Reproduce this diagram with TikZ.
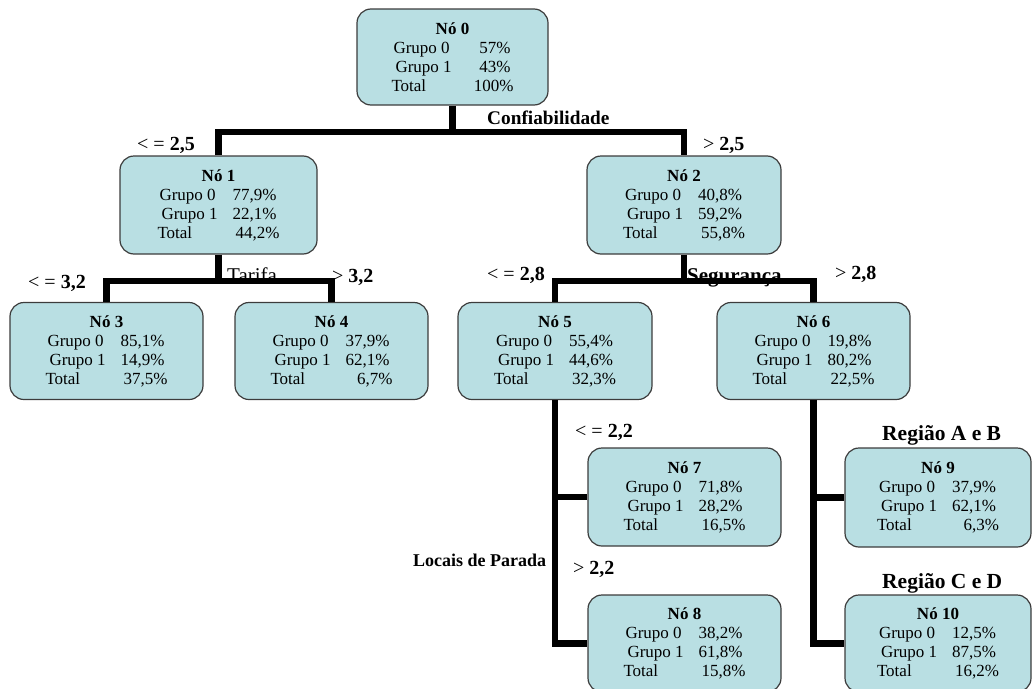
\documentclass[tikz,border=0pt]{standalone}
\usepackage{fontspec}
\setmainfont{Liberation Serif}
\newcommand{\nd}[4]{\textbf{Nó #1}\\\makebox[122pt]{\hspace{2pt}Grupo 0\hfill#2\hspace{3pt}}\\\makebox[122pt]{\hspace{4pt}Grupo 1\hfill#3\hspace{3pt}}\\\makebox[122pt]{Total\hfill#4}}
\definecolor{boxfill}{RGB}{185,223,227}
\definecolor{boxline}{RGB}{60,60,60}
\tikzset{
  tbox/.style={draw=boxline, line width=1.2pt, fill=boxfill, rounded corners=14pt,
    inner sep=0pt, align=center, font=\fontsize{17}{19}\selectfont,
    minimum width=193pt, minimum height=97pt},
  conn/.style={line width=6.5pt, draw=black, line join=miter},
  lbl/.style={font=\fontsize{#1}{22}\selectfont, inner sep=0pt, anchor=base west},
  lbl/.default=20
}
\begin{document}
\begin{tikzpicture}[x=1pt,y=-1pt]
\useasboundingbox (0,0) rectangle (1033,688);
\clip (0,0) rectangle (1033,688);
% labels
\node[lbl=19.3] (lconf) at (487,124) {\textbf{Confiabilidade}};
\node[lbl] (l25a) at (137,150) {< = \textbf{2,5}};
\node[lbl] (l25b) at (703,150) {> \textbf{2,5}};
\node[lbl=21] (ltar) at (227,282) {Tarifa};
\node[lbl] (l32b) at (332,282) {> \textbf{3,2}};
\node[lbl] (l32a) at (28,288) {< = \textbf{3,2}};
\node[lbl] (l28a) at (487,280) {< = \textbf{2,8}};
\node[lbl=21] (lseg) at (687,282) {\textbf{Segurança}};
\node[lbl] (l28b) at (835,279) {> \textbf{2,8}};
\node[lbl] (l22a) at (575,437) {< = \textbf{2,2}};
\node[lbl] (l22b) at (573,574) {> \textbf{2,2}};
\node[lbl=18] (lloc) at (413,566) {\textbf{Locais de Parada}};
\node[lbl=21.5] (lab) at (882,440) {\textbf{Região A e B}};
\node[lbl=21.5] (lcd) at (882,588) {\textbf{Região C e D}};
% nodes
\node[tbox, minimum width=191pt, minimum height=96pt] (n0) at (452.5,57) {\nd{0}{57\%}{43\%}{100\%}};
\node[tbox, minimum width=197pt, minimum height=98pt] (n1) at (218.5,205) {\nd{1}{77,9\%}{22,1\%}{44,2\%}};
\node[tbox, minimum width=194pt, minimum height=98pt] (n2) at (684,205) {\nd{2}{40,8\%}{59,2\%}{55,8\%}};
\node[tbox] (n3) at (106.5,351) {\nd{3}{85,1\%}{14,9\%}{37,5\%}};
\node[tbox] (n4) at (331.5,351) {\nd{4}{37,9\%}{62,1\%}{6,7\%}};
\node[tbox, minimum width=194pt] (n5) at (555,351) {\nd{5}{55,4\%}{44,6\%}{32,3\%}};
\node[tbox] (n6) at (813.5,351) {\nd{6}{19,8\%}{80,2\%}{22,5\%}};
\node[tbox, minimum height=98pt] (n7) at (684.5,497) {\nd{7}{71,8\%}{28,2\%}{16,5\%}};
\node[tbox] (n8) at (684.5,643.5) {\nd{8}{38,2\%}{61,8\%}{15,8\%}};
\node[tbox, minimum width=186pt, minimum height=99pt] (n9) at (938,497.5) {\nd{9}{37,9\%}{62,1\%}{6,3\%}};
\node[tbox, minimum width=186pt] (n10) at (938,643.5) {\nd{10}{12,5\%}{87,5\%}{16,2\%}};
% junctions
\coordinate (b0) at (452.5,132);
\coordinate (b1) at (218.5,281);
\coordinate (b2) at (684,281);
% connectors
\draw[conn] (n0.south) -- (b0);
\draw[conn] (n1.north) |- (b0) -| (n2.north);
\draw[conn] (n1.south) -- (b1);
\draw[conn] (n3.north) |- (b1) -| (n4.north);
\draw[conn] (n2.south) -- (b2);
\draw[conn] (n5.north) |- (b2) -| (n6.north);
\draw[conn] (n5.south) |- (n8.west);
\draw[conn] (n5.south |- n7.west) -- (n7.west);
\draw[conn] (n6.south) |- (n10.west);
\draw[conn] (n6.south |- n9.west) -- (n9.west);
\end{tikzpicture}
\end{document}
